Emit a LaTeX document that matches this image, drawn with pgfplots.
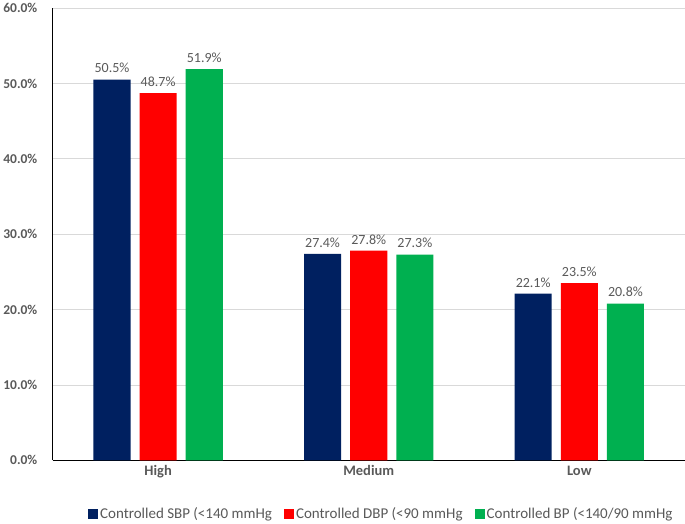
\documentclass[border=0pt]{standalone}
\usepackage{pgfplots}
\pgfplotsset{compat=1.18}
\usepackage{fontspec}
\setmainfont{Carlito}
\definecolor{sbp}{HTML}{002060}
\definecolor{dbp}{HTML}{FF0000}
\definecolor{bp}{HTML}{00B050}
\definecolor{txt}{HTML}{595959}
\begin{document}
\begin{tikzpicture}[x=1bp,y=1bp]
\begin{axis}[
  width=630bp, height=451bp, scale only axis,
  /pgf/number format/assume math mode=true,
  ybar=9bp, bar width=37bp,
  xmin=-0.5, xmax=2.5,
  ymin=0, ymax=60,
  xtick={0,1,2},
  xticklabels={High,Medium,Low},
  ytick={0,10,20,30,40,50,60},
  yticklabel={\pgfmathprintnumber[fixed,fixed zerofill,precision=1]{\tick}\%},
  yticklabel style={font=\fontsize{13.5}{15}\selectfont\bfseries, text=txt, xshift=-12bp},
  xticklabel style={font=\fontsize{14.5}{16}\selectfont\bfseries, text=txt, yshift=-2bp},
  ymajorgrids=true,
  grid style={draw=black!15, line width=0.8pt},
  axis x line*=bottom, axis y line*=left,
  axis line style={-, black, line width=0.8pt},
  major tick length=0pt,
  xtick style={draw=none}, ytick style={draw=none},
  nodes near coords={\pgfmathprintnumber[fixed,fixed zerofill,precision=1]{\pgfplotspointmeta}\%},
  nodes near coords style={font=\fontsize{14}{16}\selectfont, text=txt, yshift=3bp},
  legend style={draw=none, at={(0.52,-0.095)}, anchor=north, font=\fontsize{15}{17}\selectfont, text=txt,
    /tikz/every even column/.append style={column sep=10bp}},
  legend columns=3,
  legend image code/.code={\fill[#1] (0bp,-5bp) rectangle (10bp,5bp);},
]
\addplot[fill=sbp, draw=none] coordinates {(0,50.5) (1,27.4) (2,22.1)};
\addplot[fill=dbp, draw=none] coordinates {(0,48.7) (1,27.8) (2,23.5)};
\addplot[fill=bp, draw=none] coordinates {(0,51.9) (1,27.3) (2,20.8)};
\legend{Controlled SBP (<140 mmHg, Controlled DBP (<90 mmHg, Controlled BP (<140/90 mmHg}
\end{axis}
\end{tikzpicture}
\end{document}
